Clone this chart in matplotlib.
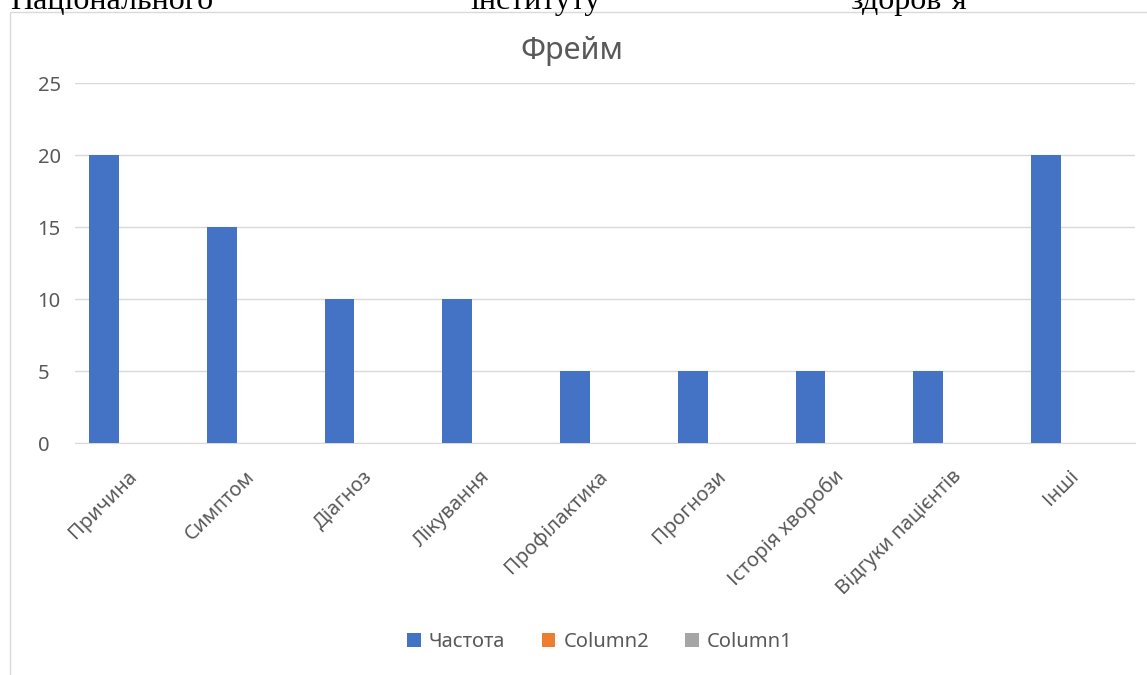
import matplotlib
matplotlib.use("Agg")
import matplotlib.pyplot as plt
from matplotlib.patches import Patch, Rectangle
import numpy as np

plt.rcParams['font.family'] = ['Noto Sans', 'DejaVu Sans']

categories = ['Причина', 'Симптом', 'Діагноз', 'Лікування', 'Профілактика',
              'Прогнози', 'Історія хвороби', 'Відгуки пацієнтів', 'Інші']
freq = [20, 15, 10, 10, 5, 5, 5, 5, 20]
series_names = ['Частота', 'Column2', 'Column1']
series_colors = ['#4472C4', '#ED7D31', '#A5A5A5']
yticks = [0, 5, 10, 15, 20, 25]

fig = plt.figure(figsize=(11.47, 6.75), dpi=100)
ax = fig.add_axes([0.0654, 0.3437, 0.924, 0.5333])

# chart border (cropped screenshot: only left and top edges visible)
fig.patches.append(Rectangle((10 / 1147, -0.1), 1.2, 1 - 12 / 675 + 0.1,
                             transform=fig.transFigure, fill=False,
                             edgecolor='#D9D9D9', linewidth=1.0))

# cut-off line of document text above the chart
for txt, xp in [('Національного', 10), ('інституту', 470), ('здоров\u2019я', 850)]:
    fig.text(xp / 1147, 1 - 9 / 675, txt, family='Liberation Serif',
             fontsize=23, color='black', va='baseline', ha='left')

x = np.arange(len(categories))
w = 0.254
ax.bar(x - w, freq, width=w, color=series_colors[0], zorder=3)

ax.set_xlim(-0.5, len(categories) - 0.5)
ax.set_ylim(0, 25)
ax.set_yticks(yticks)
ax.yaxis.grid(True, color='#D9D9D9', linewidth=1.0)
ax.set_axisbelow(True)
for s in ['top', 'right', 'left']:
    ax.spines[s].set_visible(False)
ax.spines['bottom'].set_color('#D9D9D9')
ax.tick_params(axis='both', length=0, colors='#595959', labelsize=14.5)
ax.tick_params(axis='y', pad=27)
ax.set_xticks(x)
ax.set_xticklabels(categories, rotation=45, ha='right', va='center',
                   rotation_mode='anchor')
ax.tick_params(axis='x', pad=22)
for lbl in ax.get_yticklabels():
    lbl.set_horizontalalignment('left')

fig.text(572 / 1147, 1 - 51 / 675, 'Фрейм', fontsize=22, color='#595959',
         ha='center', va='center')

handles = [Patch(facecolor=c, edgecolor='none') for c in series_colors]
fig.legend(handles, series_names, loc='center', bbox_to_anchor=(600 / 1147, 1 - 642 / 675),
           ncol=3, frameon=False, fontsize=14.5, labelcolor='#595959',
           handlelength=0.68, handleheight=0.68, handletextpad=0.4, columnspacing=1.8)

fig.savefig('out.png', dpi=100, facecolor='white')
